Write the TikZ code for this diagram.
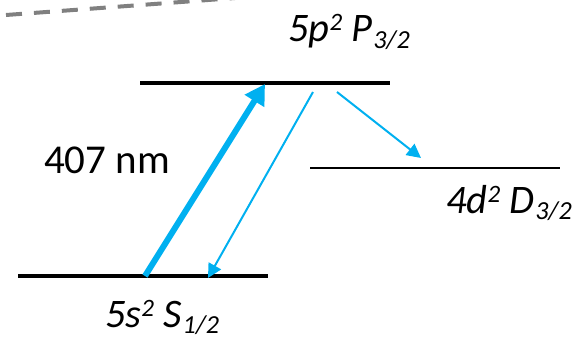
\documentclass[tikz,border=0pt]{standalone}
\usepackage{fontspec}
\setmainfont{Carlito}
\usetikzlibrary{arrows.meta}
\definecolor{lineblue}{HTML}{00B0F0}
\definecolor{dashgray}{HTML}{808080}
\newcommand{\supx}[1]{\raisebox{11pt}{\fontsize{25}{25}\selectfont #1}}
\newcommand{\subx}[1]{\kern1pt\raisebox{-6pt}{\fontsize{26}{26}\selectfont #1}}
\tikzset{
  level/.style={line width=4pt, black},
  thinlevel/.style={line width=1.8pt, black},
  pump/.style={line width=6pt, lineblue, -{Triangle[length=20pt,width=22pt]}},
  decay/.style={line width=2pt, lineblue, -{Triangle[length=14pt,width=14pt]}},
  lbl/.style={font=\fontsize{40.5}{40.5}\selectfont\itshape, inner sep=0pt, anchor=base west},
  wl/.style={font=\fontsize{41}{41}\selectfont, inner sep=0pt, anchor=base west}
}
\begin{document}
\begin{tikzpicture}[x=1pt,y=-1pt]
\useasboundingbox (0,0) rectangle (581,345);
% dashed line
\coordinate (d1) at (6,15);
\coordinate (d2) at (235,-2);
\draw[dashgray, line width=4pt, dash pattern=on 16pt off 12pt] (d1) -- (d2);
% levels
\coordinate (pL) at (140,83); \coordinate (pR) at (390,83);
\coordinate (dL) at (310,168); \coordinate (dR) at (560,168);
\coordinate (sL) at (18,276); \coordinate (sR) at (268,276);
\draw[level] (pL) -- (pR);
\draw[thinlevel] (dL) -- (dR);
\draw[level] (sL) -- (sR);
% arrows
\coordinate (a1) at (145,276); \coordinate (a2) at (265,84);
\draw[pump] (a1) -- (a2);
\coordinate (b1) at (313,92); \coordinate (b2) at (208,278);
\draw[decay] (b1) -- (b2);
\coordinate (c1) at (337,92); \coordinate (c2) at (421,158);
\draw[decay] (c1) -- (c2);
% labels
\node[lbl] (lp) at (288,42) {5p\supx{2} P\subx{3/2}};
\node[lbl] (ls) at (105,327) {5s\supx{2} S\subx{1/2}};
\node[lbl] (ld) at (446,213) {4d\supx{2} D\subx{3/2}};
\node[wl] (nm) at (44,173) {407 nm};
\end{tikzpicture}
\end{document}
